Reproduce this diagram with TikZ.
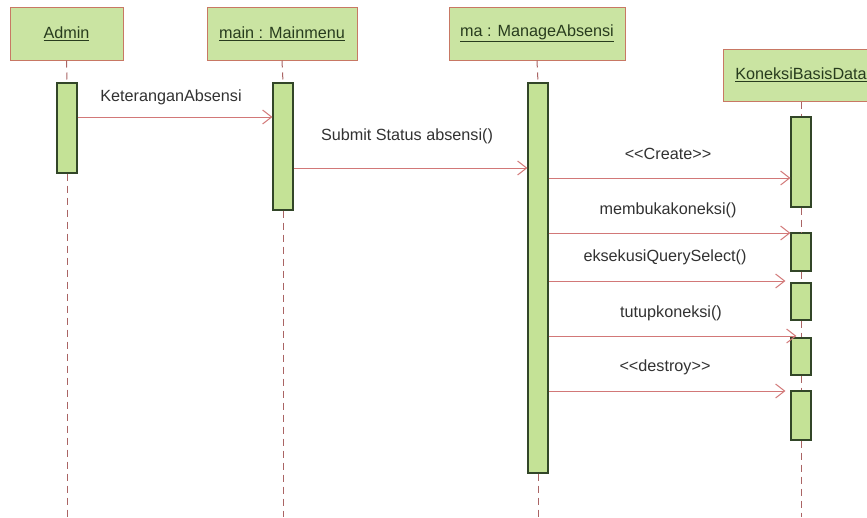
\documentclass[tikz,border=0pt]{standalone}
\usepackage{fontspec}
\setmainfont{Liberation Sans}
\usetikzlibrary{arrows.meta}
\definecolor{hdrfill}{RGB}{202,228,162}
\definecolor{hdrline}{RGB}{200,120,100}
\definecolor{barfill}{RGB}{196,226,150}
\definecolor{barline}{RGB}{50,70,40}
\definecolor{msgcol}{RGB}{210,120,120}
\definecolor{lifecol}{RGB}{170,100,100}
\definecolor{txtcol}{RGB}{50,50,50}
\definecolor{hdrtxt}{RGB}{40,60,30}
\begin{document}
\begin{tikzpicture}[x=1pt,y=-1pt,
  hdr/.style={draw=hdrline, fill=hdrfill, line width=1pt, rectangle, minimum height=53pt, inner sep=0pt, font=\fontsize{16.2}{18}\selectfont, text=hdrtxt},
  bar/.style={draw=barline, fill=barfill, line width=1.2pt, rectangle, minimum width=20pt, inner sep=0pt},
  life/.style={draw=lifecol, dash pattern=on 7pt off 5pt, line width=1pt},
  msg/.style={draw=msgcol, line width=1pt, -{Straight Barb[length=9pt,width=14pt]}},
  lbl/.style={font=\fontsize{16.2}{18}\selectfont, text=txtcol, inner sep=0pt}]
\useasboundingbox (0,0) rectangle (867,517);
\fill[white] (0,0) rectangle (867,517);
% headers
\node[hdr, minimum width=113pt] (admin) at (66.5,33.5) {\underline{Admin}};
\node[hdr, minimum width=150pt] (menu) at (282,33.5) {\underline{main : Mainmenu}};
\node[hdr, minimum width=176pt] (mng) at (537,33.5) {\underline{ma : ManageAbsensi}};
\node[hdr, minimum width=156pt, minimum height=52pt] (kon) at (801,75) {\underline{KoneksiBasisData}};
% bottom coordinates
\coordinate (aend) at (67,517);
\coordinate (mend) at (283,517);
\coordinate (gend) at (538,517);
\coordinate (kend) at (801,517);
% activation bars
\node[bar, minimum height=90pt] (abar) at (67,128) {};
\node[bar, minimum height=127pt] (mbar) at (283,146.5) {};
\node[bar, minimum height=390pt] (gbar) at (538,278) {};
\node[bar, minimum height=90pt] (k1) at (801,162) {};
\node[bar, minimum height=38pt] (k2) at (801,252) {};
\node[bar, minimum height=37pt] (k3) at (801,301.5) {};
\node[bar, minimum height=37pt] (k4) at (801,356.5) {};
\node[bar, minimum height=49pt] (k5) at (801,415.5) {};
% lifelines
\draw[life] (admin.south) -- (abar.north);
\draw[life] (abar.south) -- (aend);
\draw[life] (menu.south) -- (mbar.north);
\draw[life] (mbar.south) -- (mend);
\draw[life] (mng.south) -- (gbar.north);
\draw[life] (gbar.south) -- (gend);
\draw[life] (kon.south) -- (k1.north);
\draw[life] (k1.south) -- (k2.north);
\draw[life] (k2.south) -- (k3.north);
\draw[life] (k3.south) -- (k4.north);
\draw[life] (k4.south) -- (k5.north);
\draw[life] (k5.south) -- (kend);
% message rows
\coordinate (y1) at (0,117);
\coordinate (y2) at (0,168);
\coordinate (y3) at (0,178);
\coordinate (y4) at (0,233);
\coordinate (y5) at (0,281);
\coordinate (y6) at (0,336);
\coordinate (y7) at (0,391);
\draw[msg] (abar.east |- y1) -- (mbar.west |- y1);
\draw[msg] (mbar.east |- y2) -- (gbar.west |- y2);
\draw[msg] (gbar.east |- y3) -- (k1.west |- y3);
\draw[msg] (gbar.east |- y4) -- (k2.west |- y4);
\draw[msg, shorten >=5pt] (gbar.east |- y5) -- (k3.west |- y5);
\draw[msg, shorten >=-6pt] (gbar.east |- y6) -- (k4.west |- y6);
\draw[msg, shorten >=5pt] (gbar.east |- y7) -- (k5.west |- y7);
% labels
\node[lbl] (l1) at (171,97) {KeteranganAbsensi};
\node[lbl] (l2) at (407,136) {Submit Status absensi()};
\node[lbl] (l3) at (668,154) {<{}<Create>{}>};
\node[lbl] (l4) at (668,210) {membukakoneksi()};
\node[lbl] (l5) at (665,257) {eksekusiQuerySelect()};
\node[lbl] (l6) at (671,313) {tutupkoneksi()};
\node[lbl] (l7) at (665,367) {<{}<destroy>{}>};
\end{tikzpicture}
\end{document}
